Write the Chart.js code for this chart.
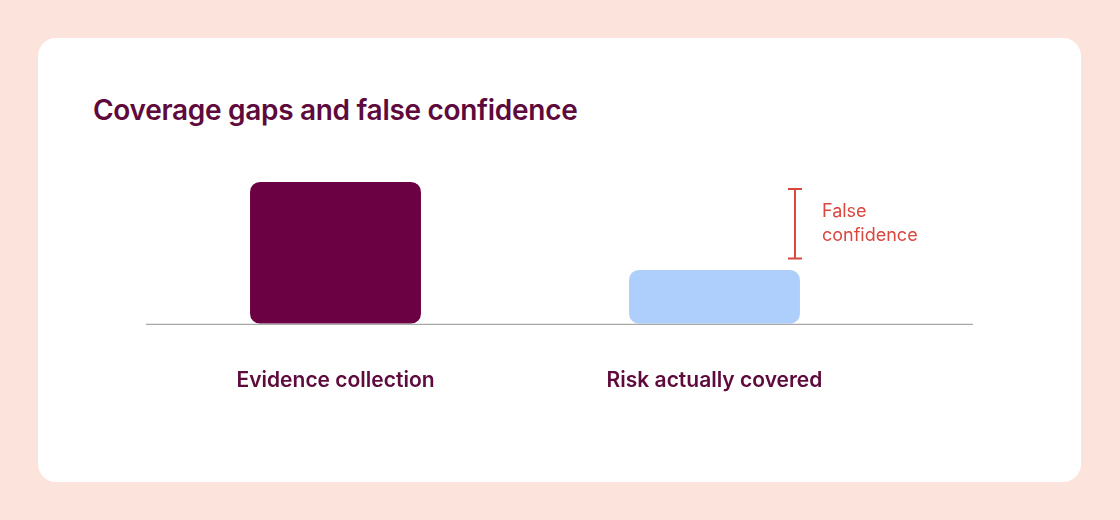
<!DOCTYPE html>
<html><head><meta charset="utf-8">
<script src="https://cdn.jsdelivr.net/npm/chart.js@4"></script>
<style>
body{margin:0;width:1120px;height:520px;background:#fce3dc;font-family:Inter,sans-serif;position:relative;overflow:hidden}
#card{position:absolute;left:38px;top:38px;width:1043px;height:444px;background:#fff;border-radius:18px}
h1{position:absolute;left:93px;top:93px;margin:0;font-size:28px;font-weight:600;color:#5e0a3c;letter-spacing:-0.3px}
#wrap{position:absolute;left:146px;top:150px;width:827px;height:279px}
</style></head><body>
<div id="card"></div>
<h1>Coverage gaps and false confidence</h1>
<div id="wrap"><canvas id="c"></canvas></div>
<script>
const categories=["Evidence collection","Risk actually covered"];
const values=[100,38];
const gapRange=[46,95];
const gapLabel=["False","confidence"];
const extras={id:'extras',afterDraw(ch){
 const {ctx,chartArea:a,scales:{x,y}}=ch;
 ctx.save();
 ctx.strokeStyle='#a9a9a9';ctx.lineWidth=1.2;
 ctx.beginPath();ctx.moveTo(0,a.bottom+0.5);ctx.lineTo(ch.width,a.bottom+0.5);ctx.stroke();
 const bar=ch.getDatasetMeta(0).data[1];
 const bx=bar.x+bar.width/2-5;
 const y1=y.getPixelForValue(gapRange[1]),y0=y.getPixelForValue(gapRange[0]);
 ctx.strokeStyle='#d9473f';ctx.lineWidth=2;
 ctx.beginPath();ctx.moveTo(bx,y1);ctx.lineTo(bx,y0);
 ctx.moveTo(bx-7,y1);ctx.lineTo(bx+7,y1);ctx.moveTo(bx-7,y0);ctx.lineTo(bx+7,y0);ctx.stroke();
 ctx.fillStyle='#d9473f';ctx.font='18px Inter';ctx.textBaseline='middle';
 const my=(y0+y1)/2;
 ctx.fillText(gapLabel[0],bx+27,my-12);ctx.fillText(gapLabel[1],bx+27,my+12);
 ctx.restore();}};
new Chart(document.getElementById('c'),{type:'bar',
 data:{labels:categories,datasets:[{data:values,backgroundColor:['#6b0042','#aecffc'],borderRadius:10,borderSkipped:false,barPercentage:0.451,categoryPercentage:1}]},
 options:{responsive:true,maintainAspectRatio:false,animation:false,
  layout:{padding:{right:69,top:0,bottom:0}},
  plugins:{legend:{display:false},tooltip:{enabled:false}},
  scales:{x:{grid:{display:false},border:{display:false},ticks:{color:'#5e0a3c',font:{family:'Inter',size:21,weight:'600'},padding:36}},
   y:{display:false,min:0,max:122.5}}},
 plugins:[extras]});
</script></body></html>
